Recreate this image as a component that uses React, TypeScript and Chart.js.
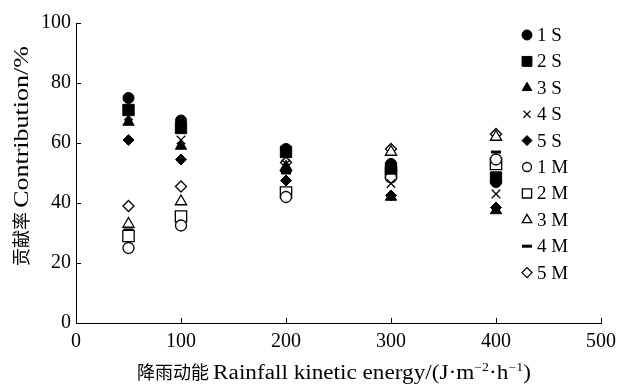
import React, { useEffect, useRef } from "react";
import { Chart, registerables } from "chart.js";
import { drawPoint } from "chart.js/helpers";

Chart.register(...registerables);

const energies = [50, 100, 200, 300, 400];
const s1 = [75, 67.5, 58, 53, 47];
const s2 = [71, 65, 57, 51.5, 48.5];
const s3 = [67, 59, 51.5, 42, 37.5];
const s4 = [69, 61, 53, 46.5, 43];
const s5 = [61, 54.5, 47.5, 42.5, 38.5];
const m1 = [25, 32.5, 42, 48.5, 54.5];
const m2 = [29, 35.5, 43.5, 50, 53];
const m3 = [33, 40.5, 52, 57, 62];
const m4 = [31, 36, 50, 50, 57];
const m5 = [39, 45.5, 53.5, 58, 63];

const seriesLabels = ["1 S", "2 S", "3 S", "4 S", "5 S", "1 M", "2 M", "3 M", "4 M", "5 M"];
const seriesValues = [s1, s2, s3, s4, s5, m1, m2, m3, m4, m5];
const xTicks = [0, 100, 200, 300, 400, 500];
const yTicks = [0, 20, 40, 60, 80, 100];

const xTitleParts = [
  { t: "降雨动能 ", cjk: true, sup: false },
  { t: "Rainfall kinetic energy/(J·m", cjk: false, sup: false },
  { t: "−2", cjk: false, sup: true },
  { t: "·h", cjk: false, sup: false },
  { t: "−1", cjk: false, sup: true },
  { t: ")", cjk: false, sup: false },
];
const yTitleParts = [
  { t: "贡献率 ", cjk: true, sup: false },
  { t: "Contribution/%", cjk: false, sup: false },
];

const FONT = "'Liberation Serif', 'Times New Roman', serif";
const CJK = "'Noto Sans CJK SC', sans-serif";

type Sty = { style: string; radius: number; fill: string; bw: number; lr: number };
const styles: Sty[] = [
  { style: "circle", radius: 5.5, fill: "#000", bw: 1, lr: 5 },
  { style: "rect", radius: 8, fill: "#000", bw: 1, lr: 7 },
  { style: "triangle", radius: 6.5, fill: "#000", bw: 1, lr: 5.5 },
  { style: "crossRot", radius: 6, fill: "#000", bw: 1.3, lr: 5 },
  { style: "rectRot", radius: 5.5, fill: "#000", bw: 1, lr: 5 },
  { style: "circle", radius: 5.5, fill: "#fff", bw: 1.3, lr: 4.5 },
  { style: "rect", radius: 8, fill: "#fff", bw: 1.3, lr: 6.5 },
  { style: "triangle", radius: 6.5, fill: "#fff", bw: 1.3, lr: 5.5 },
  { style: "line", radius: 5, fill: "#fff", bw: 3, lr: 5 },
  { style: "rectRot", radius: 5.5, fill: "#fff", bw: 1.3, lr: 5 },
];

function drawRich(ctx: CanvasRenderingContext2D, parts: any[], cx: number, cy: number, stretch: number) {
  const fontFor = (p: any) =>
    p.cjk ? `18px ${CJK}` : p.sup ? `12px ${FONT}` : `20px ${FONT}`;
  const widths = parts.map((p) => {
    ctx.font = fontFor(p);
    const w = ctx.measureText(p.t).width;
    return p.cjk ? w : w * stretch;
  });
  const total = widths.reduce((a, b) => a + b, 0);
  let x = cx - total / 2;
  ctx.textBaseline = "alphabetic";
  ctx.textAlign = "left";
  parts.forEach((p, i) => {
    ctx.font = fontFor(p);
    const base = cy + 6 + (p.sup ? -8 : 0);
    if (p.cjk) {
      ctx.fillText(p.t, x, base);
    } else {
      ctx.save();
      ctx.translate(x, base);
      ctx.scale(stretch, 1);
      ctx.fillText(p.t, 0, 0);
      ctx.restore();
    }
    x += widths[i];
  });
}

const decorPlugin = {
  id: "decor",
  afterDraw(chart: any) {
    const ctx = chart.ctx;
    const xs = chart.scales.x;
    const ys = chart.scales.y;
    const area = chart.chartArea;
    ctx.save();
    ctx.strokeStyle = "#000";
    ctx.lineWidth = 1;
    ctx.beginPath();
    xTicks.forEach((v) => {
      if (v === 0) return;
      const px = Math.round(xs.getPixelForValue(v)) + 0.5;
      ctx.moveTo(px, area.bottom);
      ctx.lineTo(px, area.bottom - 5);
    });
    yTicks.forEach((v) => {
      if (v === 0) return;
      const py = Math.round(ys.getPixelForValue(v)) + 0.5;
      ctx.moveTo(area.left, py);
      ctx.lineTo(area.left + 5, py);
    });
    ctx.stroke();

    // axis titles
    ctx.fillStyle = "#000";
    drawRich(ctx, xTitleParts, 334, 373, 1.16);
    ctx.save();
    ctx.translate(22, 156);
    ctx.rotate(-Math.PI / 2);
    drawRich(ctx, yTitleParts, 0, 0, 1.3);
    ctx.restore();

    // legend
    ctx.font = `19px ${FONT}`;
    ctx.textBaseline = "middle";
    ctx.textAlign = "left";
    seriesLabels.forEach((lab, i) => {
      const y = 35 + i * 26.4;
      const st = styles[i];
      ctx.fillStyle = st.fill;
      ctx.strokeStyle = "#000";
      ctx.lineWidth = st.bw;
      drawPoint(ctx, { pointStyle: st.style as any, radius: st.lr, rotation: 0, borderWidth: st.bw }, 527, y);
      ctx.fillStyle = "#000";
      ctx.fillText(lab, 537, y + 1);
    });
    ctx.restore();
  },
};

export default function App() {
  const ref = useRef<HTMLCanvasElement>(null);
  useEffect(() => {
    document.body.style.margin = "0";
    const datasets = seriesLabels.map((lab, i) => ({
      label: lab,
      data: energies.map((e, j) => ({ x: e, y: seriesValues[i][j] })),
      pointStyle: styles[i].style as any,
      pointRadius: styles[i].radius,
      pointBackgroundColor: styles[i].fill,
      pointBorderColor: "#000",
      pointBorderWidth: styles[i].bw,
      showLine: false,
    }));
    const chart = new Chart(ref.current!, {
      type: "scatter",
      data: { datasets },
      options: {
        animation: false,
        responsive: false,
        maintainAspectRatio: false,
        layout: { padding: { left: 0, right: 25, top: 23, bottom: 0 } },
        plugins: { legend: { display: false }, tooltip: { enabled: false } },
        scales: {
          x: {
            type: "linear",
            min: 0,
            max: 500,
            afterBuildTicks: (s: any) => { s.ticks = xTicks.map((v) => ({ value: v })); },
            afterFit: (s: any) => { s.height = 62; },
            grid: { display: false, drawTicks: false },
            border: { display: true, color: "#000", width: 1 },
            ticks: { color: "#000", font: { family: FONT, size: 20 }, padding: 7, maxRotation: 0 },
          },
          y: {
            type: "linear",
            min: 0,
            max: 100,
            afterBuildTicks: (s: any) => { s.ticks = yTicks.map((v) => ({ value: v })); },
            afterFit: (s: any) => { s.width = 76; },
            grid: { display: false, drawTicks: false },
            border: { display: true, color: "#000", width: 1 },
            ticks: { color: "#000", font: { family: FONT, size: 20 }, padding: 5 },
          },
        },
      },
      plugins: [decorPlugin],
    });
    return () => chart.destroy();
  }, []);
  return <canvas ref={ref} width={626} height={385} style={{ display: "block" }} />;
}
